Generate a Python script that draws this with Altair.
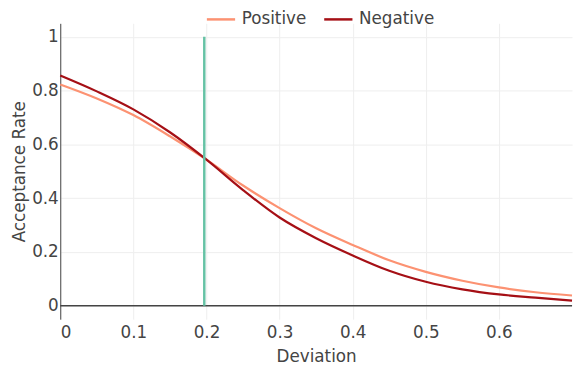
import altair as alt
import pandas as pd

deviation = [0.0, 0.05, 0.1, 0.15, 0.2, 0.25, 0.3, 0.35, 0.4, 0.45, 0.5, 0.55, 0.6, 0.65, 0.7]
positive = [0.823, 0.771, 0.709, 0.630, 0.543, 0.447, 0.363, 0.288, 0.226, 0.169, 0.126, 0.093, 0.068, 0.050, 0.038]
negative = [0.856, 0.797, 0.730, 0.645, 0.543, 0.430, 0.328, 0.251, 0.187, 0.130, 0.089, 0.061, 0.042, 0.030, 0.019]
series_names = ["Positive", "Negative"]
series_colors = ["#fc9272", "#a50f15"]
threshold = 0.197
x_ticks = [0, 0.1, 0.2, 0.3, 0.4, 0.5, 0.6]
y_ticks = [0, 0.2, 0.4, 0.6, 0.8, 1]

rows = []
for name, vals in zip(series_names, [positive, negative]):
    for x, y in zip(deviation, vals):
        rows.append({"Deviation": x, "Rate": y, "Group": name})
df = pd.DataFrame(rows)

FONT = "DejaVu Sans"
TXT = "#444444"

xscale = alt.Scale(domain=[0, 0.7], nice=False, zero=False)
yscale = alt.Scale(domain=[-0.05, 1.05], nice=False, zero=False)

lines = alt.Chart(df).mark_line(strokeWidth=2.2, interpolate="monotone").encode(
    x=alt.X("Deviation:Q", scale=xscale,
            axis=alt.Axis(values=x_ticks, format="~g", title="Deviation", domain=False,
                          ticks=False, grid=True, gridColor="#eeeeee", labelPadding=6,
                          titlePadding=8)),
    y=alt.Y("Rate:Q", scale=yscale,
            axis=alt.Axis(values=y_ticks, format="~g", title="Acceptance Rate", domain=True,
                          domainColor="#444444", ticks=False, grid=True, gridColor="#eeeeee",
                          labelPadding=2, titlePadding=3)),
    color=alt.Color("Group:N", scale=alt.Scale(domain=series_names, range=series_colors),
                    legend=alt.Legend(title=None, orient="none", direction="horizontal",
                                      legendX=147, legendY=-20, symbolType="stroke",
                                      symbolSize=820, symbolStrokeWidth=2.5, labelOffset=5,
                                      columnPadding=12, padding=0)),
)

zero_df = pd.DataFrame({"x0": [0.0], "x1": [0.7], "y": [0.0]})
zero_line = alt.Chart(zero_df).mark_rule(color="#444444", strokeWidth=1.5).encode(
    x="x0:Q", x2="x1:Q", y="y:Q"
)

vline_df = pd.DataFrame({"x": [threshold], "y0": [0.0], "y1": [1.0]})
vline = alt.Chart(vline_df).mark_rule(color="#66c2a5", strokeWidth=2.5).encode(
    x="x:Q", y="y0:Q", y2="y1:Q"
)

chart = alt.layer(zero_line, lines, vline).properties(
    width=519, height=300,
    autosize=alt.AutoSizeParams(type="none"),
    padding={"left": 53, "top": 13, "right": 2, "bottom": 50},
).configure_axis(
    labelFont=FONT, titleFont=FONT, labelFontSize=17, titleFontSize=17,
    labelColor=TXT, titleColor=TXT, titleFontWeight="normal",
).configure_legend(
    labelFont=FONT, labelFontSize=17, labelColor=TXT,
).configure_view(stroke=None)

chart.save("out.html", embed_options={"renderer": "svg", "actions": False})
